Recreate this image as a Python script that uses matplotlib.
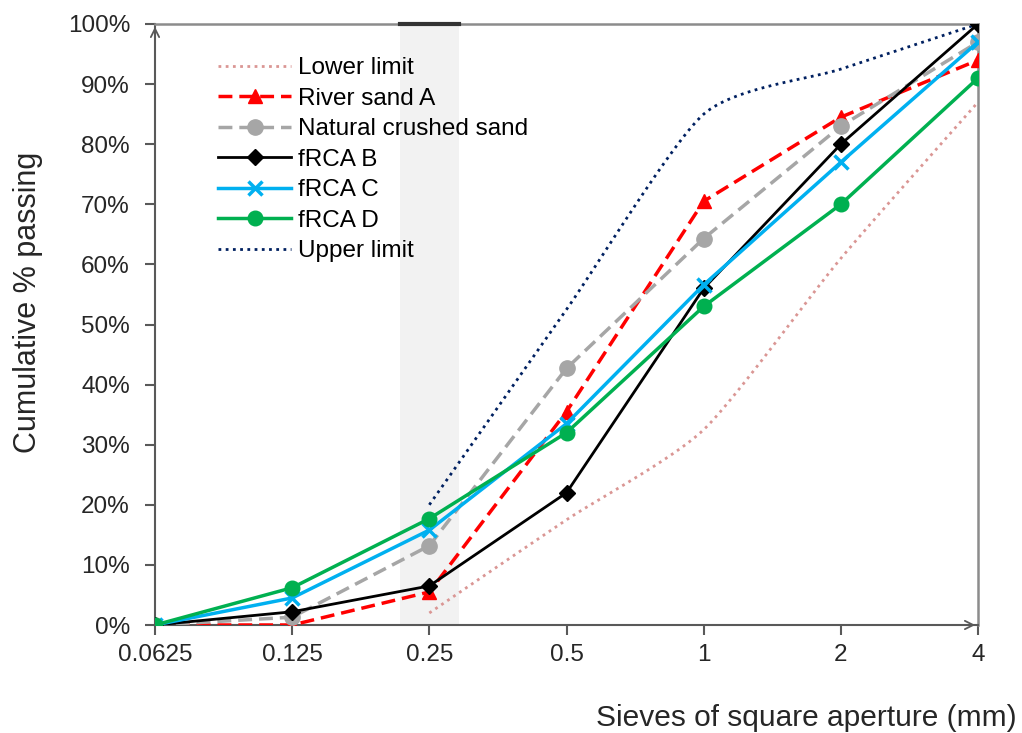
import numpy as np
import matplotlib.pyplot as plt
from matplotlib.ticker import PercentFormatter

plt.rcParams['font.family'] = ['Liberation Sans', 'DejaVu Sans']

# sieve sizes (mm), drawn on an evenly spaced category axis
sieves = ['0.0625', '0.125', '0.25', '0.5', '1', '2', '4']

# cumulative % passing
lower_limit = [np.nan, np.nan, 2, 17.5, 32.5, 61, 87]
river_sand_a = [0, 0, 5.5, 35.5, 70.5, 84.5, 94]
natural_crushed = [0, 1.3, 13.2, 42.7, 64.3, 83, 97]
frca_b = [0, 2.2, 6.5, 22, 56, 80, 100]
frca_c = [0, 4.5, 15.8, 33.5, 56.6, 77, 97]
frca_d = [0, 6.2, 17.7, 32, 53, 70, 91]
upper_limit = [np.nan, np.nan, 20, 52.5, 85, 92.5, 100]


def smooth(xs, ys, n=30, k=9):
    # Bezier curve through the points, control arms = neighbour chord / k
    xs = np.asarray(xs, float)
    ys = np.asarray(ys, float)
    ok = ~np.isnan(ys)
    p = np.column_stack([xs[ok], ys[ok]])
    p = np.vstack([p[0], p, p[-1]])
    out = []
    t = np.linspace(0, 1, n)[:, None]
    for i in range(1, len(p) - 2):
        p0, p1, p2, p3 = p[i - 1], p[i], p[i + 1], p[i + 2]
        c1 = p1 + (p2 - p0) / k
        c2 = p2 - (p3 - p1) / k
        seg = ((1 - t) ** 3) * p1 + 3 * ((1 - t) ** 2) * t * c1 + 3 * (1 - t) * t ** 2 * c2 + t ** 3 * p2
        out.append(seg)
    out = np.vstack(out)
    return out[:, 0], out[:, 1]


x = np.arange(len(sieves))

fig = plt.figure(figsize=(10.22, 7.33), dpi=100)
ax = fig.add_axes([155 / 1022, 1 - 625 / 733, (978 - 155) / 1022, (625 - 24) / 733])

# highlighted band around the 0.25 mm sieve
ax.axvspan(1.785, 2.215, color='#F2F2F2', zorder=0, lw=0)
ax.plot([1.785, 2.215], [1, 1], color='#333333', lw=3, clip_on=False, zorder=5)

lx, ly = smooth(x, np.array(lower_limit) / 100)
ax.plot(lx, ly, color='#DA9694', lw=2, ls=(0, (1, 1.6)), label='Lower limit', zorder=2)

ax.plot(x, np.array(river_sand_a) / 100, color='#FF0000', lw=2.5, ls=(0, (4, 2)),
        marker='^', ms=10, label='River sand A', zorder=3)
ax.plot(x, np.array(natural_crushed) / 100, color='#A6A6A6', lw=2.5, ls=(0, (4, 2)),
        marker='o', ms=11, label='Natural crushed sand', zorder=3)
ax.plot(x, np.array(frca_b) / 100, color='black', lw=2, marker='D', ms=8,
        label='fRCA B', zorder=3)
ax.plot(x, np.array(frca_c) / 100, color='#00B0F0', lw=2.5, marker='x', ms=10, mew=2.5,
        label='fRCA C', zorder=3)
ax.plot(x, np.array(frca_d) / 100, color='#00B050', lw=2.5, marker='o', ms=10.5,
        label='fRCA D', zorder=3)

ux, uy = smooth(x, np.array(upper_limit) / 100)
ax.plot(ux, uy, color='#002060', lw=2, ls=(0, (1, 1.6)), label='Upper limit', zorder=2)

ax.set_xlim(0, 6)
ax.set_ylim(0, 1)
ax.set_xticks(x)
ax.set_xticklabels(sieves)
ax.set_yticks(np.arange(0, 1.01, 0.1))
ax.yaxis.set_major_formatter(PercentFormatter(1.0, decimals=0))
ax.tick_params(direction='out', length=7, width=1.5, color='#595959',
               labelsize=17.5, labelcolor='#262626')
ax.tick_params(axis='y', pad=11)
ax.tick_params(axis='x', pad=7)

for side in ['left', 'bottom']:
    ax.spines[side].set_color('#595959')
    ax.spines[side].set_linewidth(1.5)
for side in ['top', 'right']:
    ax.spines[side].set_color('#8C8C8C')
    ax.spines[side].set_linewidth(1.8)

# open arrow heads at the axis ends
ax.annotate('', xy=(0, 1), xytext=(0, 0.97), xycoords='axes fraction',
            arrowprops=dict(arrowstyle='->,head_length=0.6,head_width=0.3', color='#595959', lw=1.3))
ax.annotate('', xy=(1, 0), xytext=(0.97, 0), xycoords='axes fraction',
            arrowprops=dict(arrowstyle='->,head_length=0.6,head_width=0.3', color='#595959', lw=1.3))

ax.legend(loc='upper left', bbox_to_anchor=(206 / 1022, 1 - 45 / 733),
          bbox_transform=fig.transFigure, frameon=False, fontsize=17.5,
          handlelength=3.0, handletextpad=0.3, labelspacing=0.35, borderpad=0)

fig.text(28 / 1022, 1 - 302 / 733, 'Cumulative % passing', rotation=90,
         ha='center', va='center', fontsize=22, color='#262626')
fig.text(1017 / 1022, 1 - 718 / 733, 'Sieves of square aperture (mm)',
         ha='right', va='center', fontsize=21.5, color='#262626')

fig.savefig('out.png', dpi=100)
